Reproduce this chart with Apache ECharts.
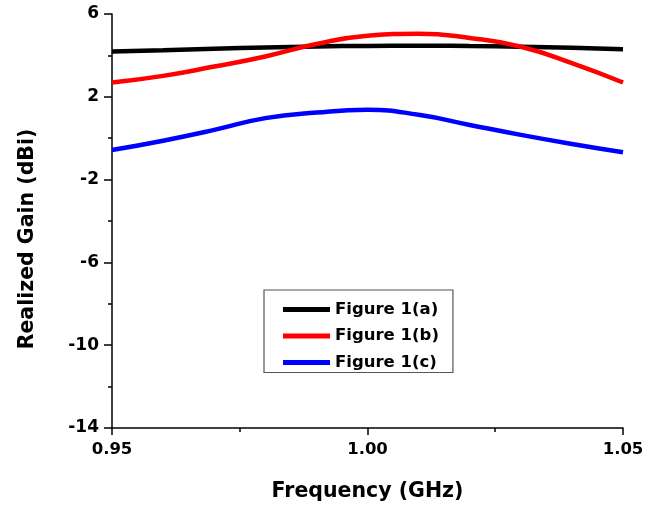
<!DOCTYPE html>
<html>
<head>
<meta charset="utf-8">
<script src="https://cdn.jsdelivr.net/npm/echarts@6/dist/echarts.min.js"></script>
<style>html,body{margin:0;padding:0;background:#fff}#c{width:646px;height:505px}</style>
</head>
<body>
<div id="c"></div>
<script>
var freq = [0.95, 0.96, 0.97, 0.98, 0.99, 1.00, 1.01, 1.02, 1.03, 1.04, 1.05];
var gainA = [4.19, 4.25, 4.32, 4.38, 4.43, 4.46, 4.47, 4.45, 4.42, 4.37, 4.30];
var gainB = [2.69, 3.01, 3.46, 3.95, 4.55, 4.95, 5.05, 4.84, 4.42, 3.63, 2.69];
var gainC = [-0.57, -0.12, 0.40, 0.97, 1.24, 1.37, 1.13, 0.64, 0.16, -0.28, -0.68];
var names = ['Figure 1(a)', 'Figure 1(b)', 'Figure 1(c)'];
var colors = ['#000000', '#ff0000', '#0000ff'];
var yTitle = 'Realized Gain (dBi)';
var xTitle = 'Frequency (GHz)';

function pairs(ys) { return freq.map(function (f, i) { return [f, ys[i]]; }); }
var font = 'DejaVu Sans, sans-serif';
var chart = echarts.init(document.getElementById('c'), null, {renderer: 'canvas'});
var series = [gainA, gainB, gainC].map(function (ys, i) {
  return {
    name: names[i], type: 'line', data: pairs(ys), smooth: true, symbol: 'none',
    lineStyle: {color: colors[i], width: 4.5}, itemStyle: {color: colors[i]}
  };
});
chart.setOption({
  animation: false,
  backgroundColor: '#fff',
  grid: {left: 112, right: 23, top: 14, bottom: 77, containLabel: false, outerBoundsMode: 'none'},
  legend: {
    orient: 'vertical', left: 264, top: 290,
    padding: [9.5, 14, 0, 19],
    itemGap: 6.5, itemWidth: 47, itemHeight: 5, icon: 'rect',
    borderColor: '#555', borderWidth: 1.2, borderRadius: 0,
    textStyle: {fontFamily: font, fontWeight: 'bold', fontSize: 16.5, lineHeight: 20, color: '#000'},
    data: names
  },
  graphic: [{
    type: 'text', x: 28, y: 239, rotation: Math.PI / 2,
    style: {text: yTitle, font: 'bold 20.5px DejaVu Sans, sans-serif', fill: '#000',
      align: 'center', verticalAlign: 'middle'}
  }],
  xAxis: {
    type: 'value', min: 0.95, max: 1.05, interval: 0.05,
    name: xTitle, nameLocation: 'middle', nameGap: 53,
    nameTextStyle: {fontFamily: font, fontWeight: 'bold', fontSize: 20.5, color: '#000'},
    axisLine: {show: true, onZero: false, lineStyle: {color: '#000', width: 1.5}},
    axisTick: {show: true, length: 7, lineStyle: {color: '#000', width: 1.5}},
    minorTick: {show: true, splitNumber: 2, length: 4, lineStyle: {color: '#000', width: 1.5}},
    splitLine: {show: false},
    axisLabel: {fontFamily: font, fontWeight: 'bold', fontSize: 16.5, color: '#000', margin: 13,
      formatter: function (v) { return v.toFixed(2); }}
  },
  yAxis: {
    type: 'value', min: -14, max: 6, interval: 4,
    axisLine: {show: true, onZero: false, lineStyle: {color: '#000', width: 1.5}},
    axisTick: {show: true, length: 8, lineStyle: {color: '#000', width: 1.5}},
    minorTick: {show: true, splitNumber: 2, length: 4, lineStyle: {color: '#000', width: 1.5}},
    splitLine: {show: false},
    axisLabel: {fontFamily: font, fontWeight: 'bold', fontSize: 17, color: '#000', margin: 13}
  },
  series: series
});
</script>
</body>
</html>
